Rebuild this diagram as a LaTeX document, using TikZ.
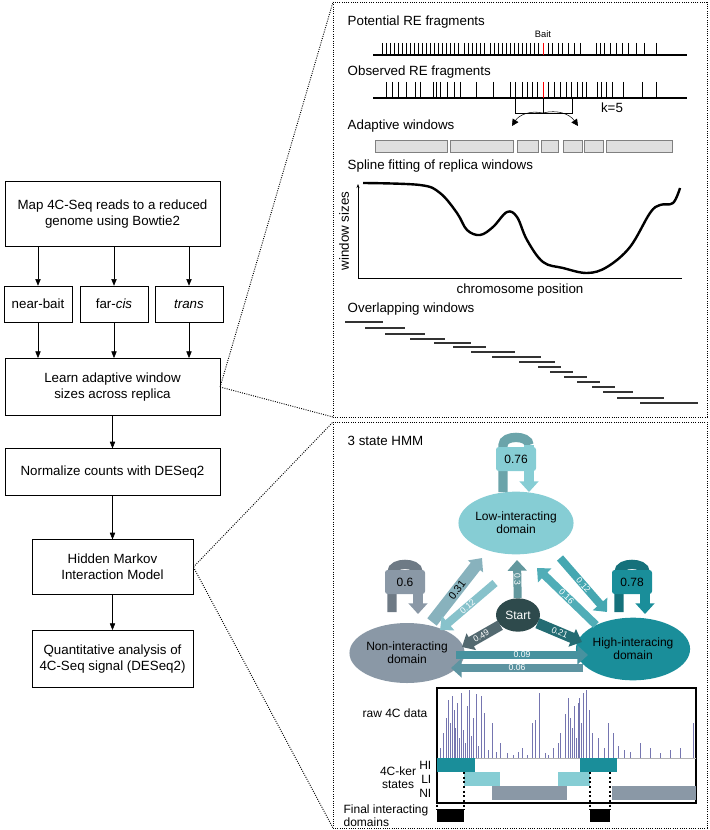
\documentclass[tikz,border=0pt]{standalone}
\usepackage{fontspec}
\setmainfont{Liberation Sans}
\usetikzlibrary{arrows.meta,positioning,calc,shapes.geometric}

\definecolor{niC}{HTML}{8A98A6}
\definecolor{liC}{HTML}{86CDD4}
\definecolor{hiC}{HTML}{1A8E9A}
\definecolor{stC}{HTML}{2E4A4C}
\definecolor{spikeC}{HTML}{3A3A8E}

\tikzset{
  stepbox/.style={draw, align=center, font=\fontsize{10}{12}\selectfont},
  flow/.style={-{Triangle[length=5pt,width=4pt]}},
  frame/.style={densely dotted, line width=0.7pt},
  lbl/.style={font=\fontsize{10}{12}\selectfont, anchor=west},
  state/.style={ellipse, align=center, font=\fontsize{9}{10}\selectfont, inner sep=0pt},
  trans/.style={line width=#1, -{Triangle[length=8pt,width=14pt]}},
  trans/.default=8pt,
  prob/.style={font=\fontsize{6.5}{7}\selectfont, text=white, sloped, inner sep=0pt},
  loopbox/.style={rounded corners=2pt, minimum width=30pt, minimum height=18pt, font=\fontsize{9}{10}\selectfont}
}

\begin{document}
\begin{tikzpicture}[x=0.75pt,y=-0.75pt]
\useasboundingbox (0,0) rectangle (709,830);

% left flow chart
\node [stepbox, minimum width=161pt, minimum height=49pt] (map) at (112.5,214) {Map 4C-Seq reads to a reduced\\genome using Bowtie2};
\node [stepbox, minimum width=51pt, minimum height=27pt] (near) at (38,304) {near-bait};
\node [stepbox, minimum width=51pt, minimum height=27pt] (far) at (114,304) {far-\emph{cis}};
\node [stepbox, minimum width=51pt, minimum height=27pt] (trans) at (189,304) {\emph{trans}};
\node [stepbox, minimum width=161pt, minimum height=43pt] (learn) at (112.5,387) {Learn adaptive window\\sizes across replica};
\node [stepbox, minimum width=161pt, minimum height=35pt] (norm) at (112.5,472) {Normalize counts with DESeq2};
\node [stepbox, minimum width=121pt, minimum height=41pt] (hmm) at (112.5,567) {Hidden Markov\\Interaction Model};
\node [stepbox, minimum width=121pt, minimum height=43pt] (quant) at (112.5,659) {Quantitative analysis of\\4C-Seq signal (DESeq2)};

\draw [flow] (map.south -| near) -- (near);
\draw [flow] (map.south -| far) -- (far);
\draw [flow] (map.south -| trans) -- (trans);
\draw [flow] (near) -- (learn.north -| near);
\draw [flow] (far) -- (learn.north -| far);
\draw [flow] (trans) -- (learn.north -| trans);
\draw [flow] (learn) -- (norm);
\draw [flow] (norm) -- (hmm);
\draw [flow] (hmm) -- (quant);

% zoom frames
\draw [frame] (333,2) rectangle (707,417);
\draw [frame] (333,422) rectangle (707,828);
\coordinate (t1) at (333,2);
\coordinate (t2) at (333,417);
\coordinate (b1) at (333,422);
\coordinate (b2) at (333,828);
\draw [frame] (learn.east) -- (t1);
\draw [frame] (learn.east) -- (t2);
\draw [frame] (hmm.east) -- (b1);
\draw [frame] (hmm.east) -- (b2);

% RE fragments
\node [lbl] (pot) at (343,22) {Potential RE fragments};
\node [font=\fontsize{7}{8}\selectfont] (bait) at (543,34) {Bait};
\draw [line width=1.3pt] (373,55) -- (687,55);
\foreach \x in {382,386,390,394,398,402,406,410,414,418,422,426,430,434,438,442,446,450,454,458,464,468,472,476,480,484,490,494,498,502,506,510,514,518,522,526,530,534,538,548,552,558,562,568,574,580,596,600,604,610,616,622,628,636,644,656}
  \draw [line width=0.6pt] (\x,43) -- (\x,55);
\draw [red, line width=0.6pt] (543,43) -- (543,55);

\node [lbl] (obs) at (343,72) {Observed RE fragments};
\draw [line width=1.3pt] (373,98) -- (687,98);
\foreach \x in {386,392,398,406,415,420,433,436,440,447,454,460,476,493,510,515,522,527,532,537,548,554,560,566,571,577,582,586,597,601,606,612,623,642,656}
  \draw [line width=0.6pt] (\x,82) -- (\x,98);
\draw [red, line width=0.6pt] (543,82) -- (543,98);
\draw (515,98) rectangle (572,113);
\draw (543,98) -- (543,113);
\node [font=\fontsize{10}{12}\selectfont] (kval) at (612,108) {k=5};
\coordinate (kc) at (543,113);
\coordinate (kl) at (512,126);
\coordinate (kr) at (578,126);
\draw [-{Triangle[length=5pt,width=5pt]}] (kc) to [bend right=35] (kl);
\draw [-{Triangle[length=5pt,width=5pt]}] (kc) to [bend left=35] (kr);

\node [lbl] (adapt) at (343,126) {Adaptive windows};
\foreach \a/\b in {375/447,450/513,517/538,541/558,563/582,584/603,606/672}
  \draw [gray, fill=gray!25] (\a,140) rectangle (\b,152);

% spline plot
\node [lbl] (spline) at (343,166) {Spline fitting of replica windows};
\draw [-{Stealth[length=3pt]}] (358,278) -- (358,184);
\draw (358,278) -- (682,278);
\node [rotate=90, font=\fontsize{10}{12}\selectfont] (wsize) at (344,231) {window sizes};
\node [font=\fontsize{10}{12}\selectfont] (chrom) at (520,290) {chromosome position};
\draw [line width=1.8pt] plot [smooth, tension=0.6] coordinates {(363,183) (420,185) (440,193) (457,213) (467,230) (480,235) (493,227) (507,212) (517,217) (527,240) (543,262) (563,268) (587,273) (607,267) (630,247) (650,213) (660,205) (673,203) (680,188)};

% overlapping windows
\node [lbl] (overlap) at (343,309) {Overlapping windows};
\foreach \a/\b/\y in {345/383/322,365/405/328,385/425/334,410/445/339,434/471/343,453/486/347,471/515/352,492/541/357,519/555/362,538/561/367,550/573/372,564/587/377,577/600/382,592/615/387,603/633/392,617/664/398,640/698/403}
  \draw [gray!40!black, line width=0.8pt] (\a,\y) -- (\b,\y);

% HMM
\node [lbl] (hmmtitle) at (343,441) {3 state HMM};

\node [state, fill=liC, minimum width=66pt, minimum height=47pt] (low) at (516,523) {Low-interacting\\domain};
\node [state, fill=niC, minimum width=68pt, minimum height=45pt] (non) at (407,653) {Non-interacting\\domain};
\node [state, fill=hiC, minimum width=68pt, minimum height=47pt] (high) at (633,649) {High-interacing\\domain};
\node [state, fill=stC, text=white, minimum width=33pt, minimum height=25pt] (start) at (518,615) {Start};

% self loops
\draw [liC!80!black, line width=7pt] (503,492) -- (503,445) to [out=90,in=90] (529,445);
\draw [trans=7pt, liC] (529,445) -- (529,492);
\node [loopbox, fill=liC] (lowp) at (516,459) {0.76};
\draw [niC!80!black, line width=7pt] (392,612) -- (392,572) to [out=90,in=90] (418,572);
\draw [trans=7pt, niC] (418,572) -- (418,614);
\node [loopbox, fill=niC] (nonp) at (405,582) {0.6};
\draw [hiC!80!black, line width=7pt] (619,612) -- (619,572) to [out=90,in=90] (645,572);
\draw [trans=7pt, hiC] (645,572) -- (645,614);
\node [loopbox, fill=hiC] (highp) at (632,582) {0.78};

% transitions
\draw [trans=9pt, niC!50!liC] (432,622) -- node [prob, font=\fontsize{8}{8}\selectfont, text=black] {0.31} (482,558);
\draw [trans=6pt, liC!80!niC] (495,583) -- node [prob] {0.12} (440,630);
\draw [trans=6pt, stC!40!liC] (start) -- node [prob] {0.3} (517,560);
\draw [trans=6pt, liC!40!hiC] (560,558) -- node [prob] {0.12} (607,612);
\draw [trans=6pt, hiC!50!liC] (596,625) -- node [prob] {0.16} (537,568);
\draw [trans, stC!60!niC] (start) -- node [prob] {0.49} (462,647);
\draw [trans, stC!50!hiC] (start) -- node [prob] {0.21} (582,642);
\draw [trans=6pt, niC!40!hiC] (456,655) -- node [prob] {0.09} (588,655);
\draw [trans=6pt, hiC!40!niC] (583,668) -- node [prob] {0.06} (451,668);

% data track
\draw [line width=1pt] (437,688) rectangle (696,803);
\node [font=\fontsize{9}{10}\selectfont, anchor=east] (raw) at (432,713) {raw 4C data};
\draw [gray!60] (437,758) -- (696,758);
\foreach \x/\h in {440/10,443/25,446/40,448/58,450/35,452/62,454/48,455/30,457/55,459/20,461/65,463/28,465/15,467/52,469/68,471/22,473/40,476/64,478/12,481/62,484/45,488/8,492/35,496/6,500/15,507/5,513/3,518/6,522/10,527/3,532/35,535/38,539/65,545/5,548/3,553/10,558/15,560/25,565/44,568/60,570/40,572/30,574/52,576/20,578/55,579/60,581/35,583/65,586/68,589/48,592/25,598/20,604/10,608/35,613/25,618/12,624/8,630/6,640/15,650/10,660/5,670/8,680/10,693/35}
  \draw [spikeC!70!white, line width=0.5pt] (\x,758) -- (\x,758-\h);

\fill [hiC] (437,758) rectangle (475,772);
\fill [hiC] (580,758) rectangle (617,772);
\fill [liC] (464,772) rectangle (500,786);
\fill [liC] (558,772) rectangle (590,786);
\fill [niC] (492,786) rectangle (567,800);
\fill [niC] (612,786) rectangle (696,800);
\node [font=\fontsize{9}{10}\selectfont, anchor=east] (hil) at (436,765) {HI};
\node [font=\fontsize{9}{10}\selectfont, anchor=east] (lil) at (436,779) {LI};
\node [font=\fontsize{9}{10}\selectfont, anchor=east] (nil) at (436,793) {NI};
\node [font=\fontsize{9}{10}\selectfont, align=center] (kerl) at (398,778) {4C-ker\\states};
\foreach \x in {437,464,590,610}
  \draw [line width=1.5pt, dotted] (\x,772) -- (\x,810);
\fill (437,809) rectangle (464,822);
\fill (590,809) rectangle (610,822);
\node [font=\fontsize{9}{10}\selectfont, align=left] (finl) at (386,816) {Final interacting\\domains};
\end{tikzpicture}
\end{document}
